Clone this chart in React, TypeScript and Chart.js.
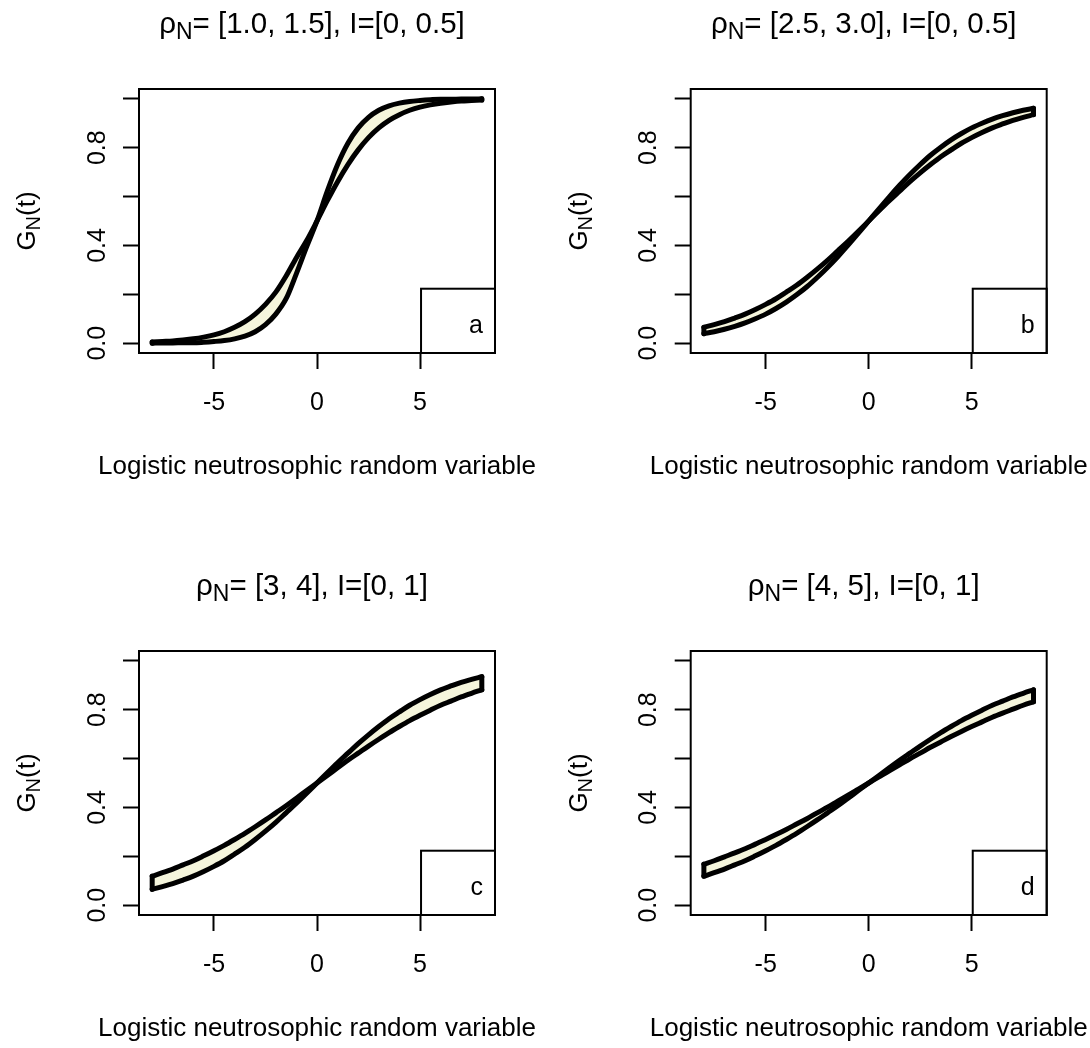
import React, { useEffect, useRef } from "react";
import { Chart, registerables } from "chart.js";

Chart.register(...registerables);

// ---------------- data ----------------
const T_VALUES = [-8, -7.5, -7, -6.5, -6, -5.5, -5, -4.5, -4, -3.5, -3, -2.5, -2, -1.5, -1, -0.5, 0, 0.5, 1, 1.5, 2, 2.5, 3, 3.5, 4, 4.5, 5, 5.5, 6, 6.5, 7, 7.5, 8];

// panel a: rho = 1.0 and rho = 1.5
const A_RHO_LOW = [0.0, 0.001, 0.001, 0.002, 0.002, 0.004, 0.007, 0.011, 0.018, 0.029, 0.047, 0.076, 0.119, 0.182, 0.285, 0.395, 0.5, 0.622, 0.731, 0.818, 0.881, 0.924, 0.953, 0.971, 0.982, 0.989, 0.993, 0.996, 0.998, 0.998, 0.999, 0.999, 1.0];
const A_RHO_HIGH = [0.005, 0.007, 0.009, 0.013, 0.018, 0.025, 0.034, 0.047, 0.065, 0.088, 0.119, 0.159, 0.209, 0.275, 0.35, 0.42, 0.5, 0.583, 0.661, 0.731, 0.791, 0.841, 0.881, 0.912, 0.935, 0.953, 0.966, 0.975, 0.982, 0.987, 0.991, 0.993, 0.995];

// panel b: rho = 2.5 and rho = 3.0
const B_RHO_LOW = [0.039, 0.047, 0.057, 0.069, 0.083, 0.1, 0.119, 0.142, 0.168, 0.198, 0.231, 0.269, 0.31, 0.354, 0.401, 0.45, 0.5, 0.55, 0.599, 0.646, 0.69, 0.731, 0.769, 0.802, 0.832, 0.858, 0.881, 0.9, 0.917, 0.931, 0.943, 0.953, 0.961];
const B_RHO_HIGH = [0.065, 0.076, 0.088, 0.103, 0.119, 0.138, 0.159, 0.182, 0.209, 0.237, 0.269, 0.303, 0.339, 0.378, 0.417, 0.458, 0.5, 0.542, 0.583, 0.622, 0.661, 0.697, 0.731, 0.763, 0.791, 0.818, 0.841, 0.862, 0.881, 0.897, 0.912, 0.924, 0.935];

// panel c: rho = 3 and rho = 4
const C_RHO_LOW = [0.065, 0.076, 0.088, 0.103, 0.119, 0.138, 0.159, 0.182, 0.209, 0.237, 0.269, 0.303, 0.339, 0.378, 0.417, 0.458, 0.5, 0.542, 0.583, 0.622, 0.661, 0.697, 0.731, 0.763, 0.791, 0.818, 0.841, 0.862, 0.881, 0.897, 0.912, 0.924, 0.935];
const C_RHO_HIGH = [0.119, 0.133, 0.148, 0.165, 0.182, 0.202, 0.223, 0.245, 0.269, 0.294, 0.321, 0.349, 0.378, 0.407, 0.438, 0.469, 0.5, 0.531, 0.562, 0.593, 0.622, 0.651, 0.679, 0.706, 0.731, 0.755, 0.777, 0.798, 0.818, 0.835, 0.852, 0.867, 0.881];

// panel d: rho = 4 and rho = 5
const D_RHO_LOW = [0.119, 0.133, 0.148, 0.165, 0.182, 0.202, 0.223, 0.245, 0.269, 0.294, 0.321, 0.349, 0.378, 0.407, 0.438, 0.469, 0.5, 0.531, 0.562, 0.593, 0.622, 0.651, 0.679, 0.706, 0.731, 0.755, 0.777, 0.798, 0.818, 0.835, 0.852, 0.867, 0.881];
const D_RHO_HIGH = [0.168, 0.182, 0.198, 0.214, 0.231, 0.25, 0.269, 0.289, 0.31, 0.332, 0.354, 0.378, 0.401, 0.426, 0.45, 0.475, 0.5, 0.525, 0.55, 0.574, 0.599, 0.622, 0.646, 0.668, 0.69, 0.711, 0.731, 0.75, 0.769, 0.786, 0.802, 0.818, 0.832];

const X_TICKS = [-5, 0, 5];
const X_TICK_LABELS = ["-5", "0", "5"];
const Y_TICKS = [0, 0.2, 0.4, 0.6, 0.8, 1.0];
const Y_TICK_LABELS = ["0.0", "", "0.4", "", "0.8", ""];

const TITLES = ["= [1.0, 1.5], I=[0, 0.5]", "= [2.5, 3.0], I=[0, 0.5]", "= [3, 4], I=[0, 1]", "= [4, 5], I=[0, 1]"];
const LETTERS = ["a", "b", "c", "d"];
const X_LABEL = "Logistic neutrosophic random variable";

const X_RANGE = [-8.64, 8.64];
const Y_RANGE = [-0.04, 1.04];
const LEGEND_X0 = 5.05;
const LEGEND_Y1 = 0.223;

// ---------------- style / layout ----------------
const FONT = '"Liberation Sans", Arial, Helvetica, sans-serif';
const FILL = "#F5F5DC";
const CURVE_W = 5;
const BOX_W = 2;
const Y_AXIS_W = 70;
const X_AXIS_H = 60;
const TITLE_SIZE = 29.5;

type Spec = {
  left: number; top: number; width: number; height: number;
  box: { l: number; r: number; t: number; b: number };
  titleDy: number; xlabDy: number;
  title: string; letter: string; low: number[]; high: number[];
};

const SPECS: Spec[] = [
  { left: 0, top: 0, width: 545, height: 524, box: { l: 139, r: 495, t: 89, b: 353 }, titleDy: -56, xlabDy: 121, title: TITLES[0], letter: LETTERS[0], low: A_RHO_LOW, high: A_RHO_HIGH },
  { left: 545, top: 0, width: 545, height: 524, box: { l: 145.7, r: 501.7, t: 89, b: 353 }, titleDy: -56, xlabDy: 121, title: TITLES[1], letter: LETTERS[1], low: B_RHO_LOW, high: B_RHO_HIGH },
  { left: 0, top: 524, width: 545, height: 524, box: { l: 139, r: 495, t: 127, b: 391 }, titleDy: -56, xlabDy: 121, title: TITLES[2], letter: LETTERS[2], low: C_RHO_LOW, high: C_RHO_HIGH },
  { left: 545, top: 524, width: 545, height: 524, box: { l: 145.7, r: 501.7, t: 127, b: 391 }, titleDy: -56, xlabDy: 121, title: TITLES[3], letter: LETTERS[3], low: D_RHO_LOW, high: D_RHO_HIGH },
];

type Part = { t: string; size: number; dy?: number };

function drawParts(ctx: CanvasRenderingContext2D, parts: Part[], cx: number, y: number) {
  let total = 0;
  const widths = parts.map((p) => {
    ctx.font = `${p.size}px ${FONT}`;
    const w = ctx.measureText(p.t).width;
    total += w;
    return w;
  });
  let x = cx - total / 2;
  ctx.textAlign = "left";
  ctx.textBaseline = "alphabetic";
  parts.forEach((p, i) => {
    ctx.font = `${p.size}px ${FONT}`;
    ctx.fillText(p.t, x, y + (p.dy || 0));
    x += widths[i];
  });
}

function makeDecor(spec: Spec) {
  return {
    id: "decor",
    afterDraw(chart: any) {
      const { ctx, chartArea: ca } = chart;
      const xs = chart.scales.x;
      const ys = chart.scales.y;
      ctx.save();
      ctx.strokeStyle = "#000";
      ctx.lineWidth = BOX_W;
      ctx.strokeRect(ca.left, ca.top, ca.right - ca.left, ca.bottom - ca.top);
      // legend box
      const lx = xs.getPixelForValue(LEGEND_X0);
      const ly = ys.getPixelForValue(LEGEND_Y1);
      ctx.strokeRect(lx, ly, ca.right - lx, ca.bottom - ly);
      ctx.fillStyle = "#000";
      ctx.font = `25px ${FONT}`;
      ctx.textAlign = "right";
      ctx.textBaseline = "alphabetic";
      ctx.fillText(spec.letter, ca.right - 12, ca.bottom - 20);
      const cx = (ca.left + ca.right) / 2;
      // title
      drawParts(
        ctx,
        [{ t: "ρ", size: TITLE_SIZE }, { t: "N", size: TITLE_SIZE * 0.78, dy: 6 }, { t: spec.title, size: TITLE_SIZE }],
        cx - 5,
        ca.top + spec.titleDy
      );
      // x label
      ctx.font = `26px ${FONT}`;
      ctx.textAlign = "center";
      ctx.fillText(X_LABEL, cx, ca.bottom + spec.xlabDy);
      // y label
      ctx.translate(ca.left - 104, (ca.top + ca.bottom) / 2);
      ctx.rotate(-Math.PI / 2);
      drawParts(ctx, [{ t: "G", size: 26 }, { t: "N", size: 20, dy: 5 }, { t: "(t)", size: 26 }], 0, 0);
      ctx.restore();
    },
  };
}

function Panel({ spec }: { spec: Spec }) {
  const ref = useRef<HTMLCanvasElement>(null);
  useEffect(() => {
    const canvas = ref.current;
    if (!canvas) return;
    const n = T_VALUES.length;
    const lowPts = T_VALUES.map((t, i) => ({ x: t, y: spec.low[i] }));
    const highPts = T_VALUES.map((t, i) => ({ x: t, y: spec.high[i] }));
    const lineBase = {
      borderColor: "#000",
      borderWidth: CURVE_W,
      pointRadius: 0,
      borderJoinStyle: "round",
      borderCapStyle: "round",
    };
    const tickFont = { family: FONT, size: 25 };
    const gridOpts = { display: true, drawOnChartArea: false, drawTicks: true, tickLength: 16, tickColor: "#000", tickWidth: 2 };
    const chart = new Chart(canvas, {
      type: "line",
      data: {
        datasets: [
          { ...lineBase, data: lowPts, fill: "+1", backgroundColor: FILL, cubicInterpolationMode: "monotone" },
          { ...lineBase, data: highPts, fill: false, cubicInterpolationMode: "monotone" },
          { ...lineBase, data: [{ x: T_VALUES[0], y: spec.low[0] }, { x: T_VALUES[0], y: spec.high[0] }], fill: false, tension: 0 },
          { ...lineBase, data: [{ x: T_VALUES[n - 1], y: spec.low[n - 1] }, { x: T_VALUES[n - 1], y: spec.high[n - 1] }], fill: false, tension: 0 },
        ] as any,
      },
      options: {
        responsive: false,
        animation: false,
        devicePixelRatio: 1,
        events: [],
        layout: {
          padding: {
            left: spec.box.l - Y_AXIS_W,
            right: spec.width - spec.box.r,
            top: spec.box.t,
            bottom: spec.height - spec.box.b - X_AXIS_H,
          },
        },
        plugins: {
          legend: { display: false },
          title: { display: false },
          tooltip: { enabled: false },
          filler: { drawTime: "beforeDatasetsDraw" },
        } as any,
        scales: {
          x: {
            type: "linear",
            min: X_RANGE[0],
            max: X_RANGE[1],
            bounds: "data",
            afterBuildTicks: (s: any) => { s.ticks = X_TICKS.map((v) => ({ value: v })); },
            afterFit: (s: any) => { s.height = X_AXIS_H; },
            ticks: {
              callback: (_v: any, i: number) => X_TICK_LABELS[i],
              autoSkip: false, maxRotation: 0, minRotation: 0, padding: 19, color: "#000", font: tickFont,
            },
            grid: gridOpts,
            border: { display: false },
          },
          y: {
            type: "linear",
            min: Y_RANGE[0],
            max: Y_RANGE[1],
            bounds: "data",
            afterBuildTicks: (s: any) => { s.ticks = Y_TICKS.map((v) => ({ value: v })); },
            afterFit: (s: any) => { s.width = Y_AXIS_W; },
            ticks: {
              callback: (_v: any, i: number) => Y_TICK_LABELS[i],
              autoSkip: false, minRotation: 90, maxRotation: 90, crossAlign: "center", padding: 8, color: "#000", font: tickFont,
            },
            grid: gridOpts,
            border: { display: false },
          },
        } as any,
      },
      plugins: [makeDecor(spec)],
    } as any);
    return () => chart.destroy();
  }, [spec]);
  return (
    <canvas
      ref={ref}
      width={spec.width}
      height={spec.height}
      style={{ position: "absolute", left: spec.left, top: spec.top, width: spec.width, height: spec.height }}
    />
  );
}

export default function App() {
  useEffect(() => {
    document.body.style.margin = "0";
  }, []);
  return (
    <div style={{ position: "relative", width: 1090, height: 1048, background: "#fff", overflow: "hidden" }}>
      {SPECS.map((s, i) => (
        <Panel key={i} spec={s} />
      ))}
    </div>
  );
}
